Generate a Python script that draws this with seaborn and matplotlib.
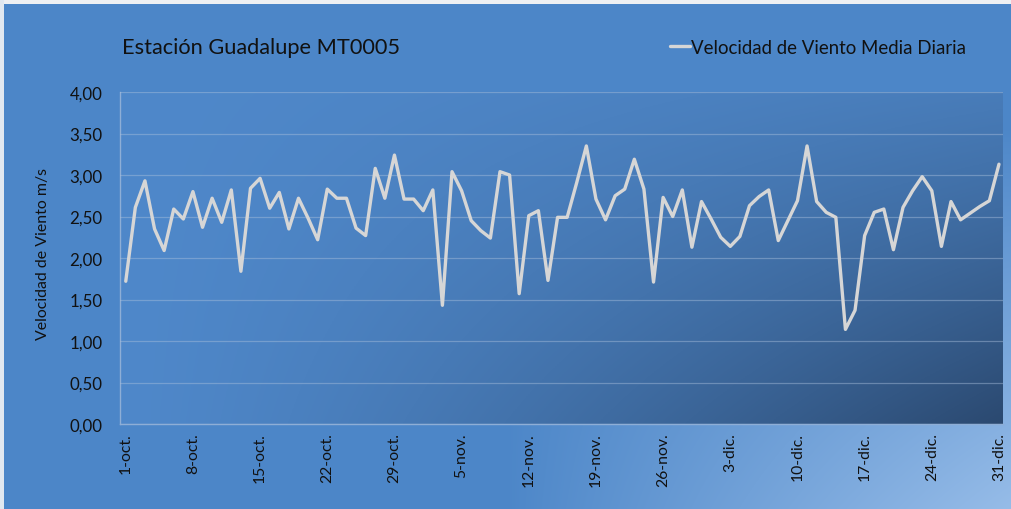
import numpy as np
import pandas as pd
import matplotlib
matplotlib.use("Agg")
import matplotlib.pyplot as plt
import seaborn as sns

# ---------------- data ----------------
velocidad = [
    1.72, 2.61, 2.93, 2.35, 2.09, 2.59, 2.47, 2.80, 2.37, 2.72,
    2.43, 2.82, 1.84, 2.84, 2.96, 2.60, 2.79, 2.35, 2.72, 2.48,
    2.22, 2.83, 2.72, 2.72, 2.36, 2.27, 3.08, 2.72, 3.24, 2.71,
    2.71, 2.57, 2.82, 1.43, 3.04, 2.81, 2.45, 2.33, 2.24, 3.04,
    3.00, 1.57, 2.51, 2.57, 1.73, 2.49, 2.49, 2.91, 3.35, 2.71,
    2.46, 2.75, 2.83, 3.19, 2.83, 1.71, 2.73, 2.50, 2.82, 2.13,
    2.68, 2.47, 2.25, 2.14, 2.26, 2.63, 2.74, 2.82, 2.21, 2.45,
    2.69, 3.35, 2.68, 2.55, 2.49, 1.14, 1.37, 2.27, 2.55, 2.59,
    2.10, 2.61, 2.81, 2.98, 2.81, 2.14, 2.68, 2.46, 2.54, 2.62,
    2.69, 3.13,
]
tick_labels = ["1-oct.", "8-oct.", "15-oct.", "22-oct.", "29-oct.", "5-nov.",
               "12-nov.", "19-nov.", "26-nov.", "3-dic.", "10-dic.", "17-dic.",
               "24-dic.", "31-dic."]
y_ticks = [0.0, 0.5, 1.0, 1.5, 2.0, 2.5, 3.0, 3.5, 4.0]
titulo = "Estación Guadalupe MT0005"
serie = "Velocidad de Viento Media Diaria"
ylabel = "Velocidad de Viento m/s"

df = pd.DataFrame({"dia": np.arange(len(velocidad)), "vel": velocidad})

# ---------------- style ----------------
sns.set_style("white")
plt.rcParams["font.family"] = ["Lato", "DejaVu Sans"]

W, H = 1011, 510
fig = plt.figure(figsize=(W / 100, H / 100), dpi=100)

# figure background gradient
bg = fig.add_axes([0, 0, 1, 1], zorder=-10)
bg.axis("off")
yy, xx = np.mgrid[0:H, 0:W]
u = xx / (W - 1)
v = yy / (H - 1)
base = np.array([76, 134, 200]) / 255.0
light = np.array([150, 188, 232]) / 255.0
t = np.clip((u - 0.5) / 0.5, 0, 1) * np.clip((v - 0.25) / 0.75, 0, 1)
t = t ** 0.9
img = base[None, None, :] * (1 - t[..., None]) + light[None, None, :] * t[..., None]
# light border on top / left
img[0:5, :, :] = np.array([238, 240, 243]) / 255.0
img[:, 0:4, :] = np.array([225, 232, 240]) / 255.0
bg.imshow(img, extent=(0, 1, 0, 1), aspect="auto", transform=bg.transAxes)

# plot axes
ax = fig.add_axes([120 / W, 1 - 425 / H, (1003 - 120) / W, (425 - 93) / H])
ax.set_facecolor("none")
gh, gw = 200, 400
gy, gx = np.mgrid[0:gh, 0:gw]
pu = gx / (gw - 1)
pv = gy / (gh - 1)  # 0 top, 1 bottom
top_c = np.array([79, 136, 202]) / 255.0
dark_c = np.array([43, 73, 112]) / 255.0
pt = np.clip(pu ** 1.1 * (0.25 + 0.75 * pv), 0, 1) ** 1.2
pimg = top_c[None, None, :] * (1 - pt[..., None]) + dark_c[None, None, :] * pt[..., None]
ax.imshow(pimg, extent=(0, 1, 0, 1), aspect="auto", transform=ax.transAxes, zorder=0)

sns.lineplot(data=df, x="dia", y="vel", ax=ax, color="#d6d6d6", linewidth=2.4,
             label=serie, zorder=3)

ax.set_xlim(-0.6, len(velocidad) - 1 + 0.42)
ax.set_ylim(0, 4)
ax.set_yticks(y_ticks)
ax.set_yticklabels([f"{y:.2f}".replace(".", ",") for y in y_ticks],
                   fontsize=12.2, color="#111111")
ax.set_xticks(np.arange(0, len(velocidad), 7))
ax.set_xticklabels(tick_labels, rotation=90, fontsize=11.3, color="#111111")
ax.tick_params(axis="both", length=0)
ax.tick_params(axis="y", pad=12.5)
ax.tick_params(axis="x", pad=6)
ax.grid(axis="y", color="#a9bfdc", alpha=0.45, linewidth=0.9)
ax.set_axisbelow(False)
for gl in ax.get_ygridlines():
    gl.set_zorder(1)
for s in ["top", "right"]:
    ax.spines[s].set_visible(False)
ax.spines["left"].set_color("#8eaed6")
ax.spines["bottom"].set_color("#8eaed6")
ax.spines["left"].set_linewidth(1.0)
ax.spines["bottom"].set_linewidth(1.0)
ax.set_xlabel("")
ax.set_ylabel(ylabel, fontsize=11.4, color="#111111")
ax.yaxis.set_label_coords((50 - 120) / (1003 - 120), (425 - 254) / (425 - 93))

fig.text(122 / W, 1 - 48 / H, titulo, fontsize=15.7, color="#111111",
         va="center", ha="left")
leg = ax.legend(loc="center right", bbox_to_anchor=(966 / W, 1 - 48 / H),
                bbox_transform=fig.transFigure, frameon=False, fontsize=13.4,
                handlelength=1.1, handletextpad=0.05, borderpad=0,
                borderaxespad=0, labelcolor="#111111")

fig.savefig("out.png", dpi=100)
